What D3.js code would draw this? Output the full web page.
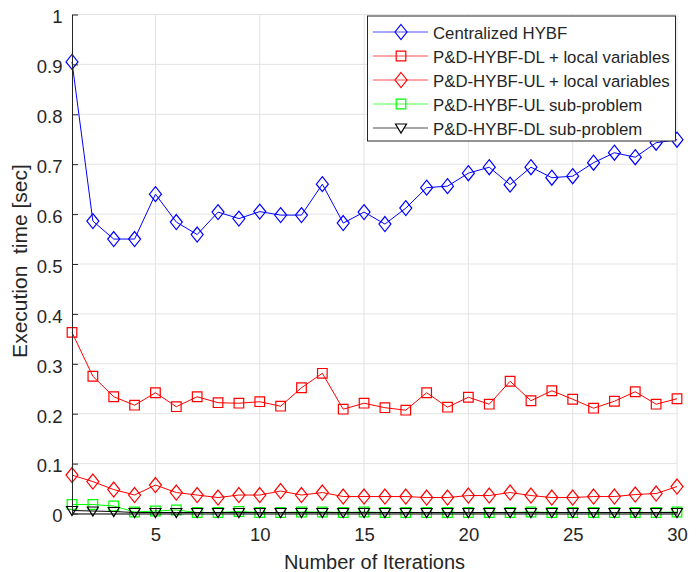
<!DOCTYPE html>
<html>
<head>
<meta charset="utf-8">
<script src="https://cdn.jsdelivr.net/npm/d3@7"></script>
<style>
  body { margin: 0; background: #fff; }
  svg { font-family: "Liberation Sans", Arial, sans-serif; }
</style>
</head>
<body>
<div id="container"></div>
<script>
// data
const iterations = d3.range(1, 31);
const centralized = [0.905, 0.586, 0.550, 0.550, 0.640, 0.584, 0.559, 0.604, 0.591, 0.605,
                     0.598, 0.598, 0.660, 0.582, 0.604, 0.580, 0.612, 0.653, 0.656, 0.682,
                     0.694, 0.659, 0.694, 0.673, 0.676, 0.703, 0.723, 0.714, 0.743, 0.749];
const dlLocal = [0.363, 0.275, 0.234, 0.217, 0.242, 0.214, 0.234, 0.222, 0.221, 0.224,
                 0.215, 0.252, 0.281, 0.209, 0.221, 0.212, 0.207, 0.242, 0.213, 0.233,
                 0.219, 0.265, 0.226, 0.246, 0.229, 0.211, 0.225, 0.244, 0.219, 0.230];
const ulLocal = [0.077, 0.064, 0.048, 0.037, 0.057, 0.042, 0.037, 0.032, 0.037, 0.037,
                 0.045, 0.037, 0.042, 0.034, 0.034, 0.034, 0.034, 0.032, 0.032, 0.036,
                 0.036, 0.042, 0.036, 0.032, 0.032, 0.034, 0.034, 0.038, 0.040, 0.054];
const ulSub = [0.018, 0.018, 0.015, 0.003, 0.005, 0.007, 0.002, 0.002, 0.004, 0.002,
               0.002, 0.003, 0.003, 0.002, 0.003, 0.002, 0.002, 0.002, 0.002, 0.002,
               0.002, 0.002, 0.003, 0.002, 0.002, 0.002, 0.002, 0.002, 0.002, 0.003];
const dlSub = [0.006, 0.005, 0.004, 0.002, 0.002, 0.002, 0.002, 0.002, 0.002, 0.002,
               0.002, 0.002, 0.002, 0.002, 0.002, 0.002, 0.002, 0.002, 0.002, 0.002,
               0.002, 0.002, 0.002, 0.002, 0.002, 0.002, 0.002, 0.002, 0.002, 0.002];
const xTicks = [5, 10, 15, 20, 25, 30];
const yTicks = [0, 0.1, 0.2, 0.3, 0.4, 0.5, 0.6, 0.7, 0.8, 0.9, 1];

const series = [
  {name: "Centralized HYBF", values: centralized, color: "#0000ff", marker: "diamond"},
  {name: "P&D-HYBF-DL + local variables", values: dlLocal, color: "#ff0000", marker: "square"},
  {name: "P&D-HYBF-UL + local variables", values: ulLocal, color: "#ff0000", marker: "diamond"},
  {name: "P&D-HYBF-UL sub-problem", values: ulSub, color: "#00ff00", marker: "square"},
  {name: "P&D-HYBF-DL sub-problem", values: dlSub, color: "#000000", marker: "triangle"}
];

// dimensions
const w = 699, h = 572;
const pLeft = 72, pRight = 677, pTop = 14.5, pBottom = 513.5;
const axisColor = "#262626";

const xScale = d3.scaleLinear().domain([1, 30]).range([pLeft, pRight]);
const yScale = d3.scaleLinear().domain([0, 1]).range([pBottom, pTop]);

const svg = d3.select("#container").append("svg")
  .attr("width", w).attr("height", h);

// grid
svg.append("g").selectAll("line")
  .data(xTicks).enter().append("line")
  .attr("x1", d => xScale(d)).attr("x2", d => xScale(d))
  .attr("y1", pTop).attr("y2", pBottom)
  .attr("stroke", "#e3e3e3").attr("stroke-width", 1);
svg.append("g").selectAll("line")
  .data(yTicks).enter().append("line")
  .attr("x1", pLeft).attr("x2", pRight)
  .attr("y1", d => yScale(d)).attr("y2", d => yScale(d))
  .attr("stroke", "#e3e3e3").attr("stroke-width", 1);

// markers
function markerPath(type) {
  if (type === "diamond") return "M0,-7.5L6,0L0,7.5L-6,0Z";
  if (type === "square") return "M-4.8,-4.8H4.8V4.8H-4.8Z";
  return "M-5.5,-4L5.5,-4L0,5Z";
}

const line = d3.line()
  .x((d, i) => xScale(iterations[i]))
  .y(d => yScale(d));

series.forEach(function(s) {
  svg.append("path")
    .datum(s.values)
    .attr("d", line)
    .attr("fill", "none")
    .attr("stroke", s.color)
    .attr("stroke-width", 1);
  svg.append("g").selectAll("path")
    .data(s.values).enter().append("path")
    .attr("transform", (d, i) => "translate(" + xScale(iterations[i]) + "," + yScale(d) + ")")
    .attr("d", markerPath(s.marker))
    .attr("fill", "none")
    .attr("stroke", s.color)
    .attr("stroke-width", 1.2);
});

// axes
const xAxis = d3.axisBottom(xScale).tickValues(xTicks)
  .tickSizeInner(-6).tickSizeOuter(0).tickPadding(14.5);
const yAxis = d3.axisLeft(yScale).tickValues(yTicks)
  .tickSizeInner(-6).tickSizeOuter(0).tickPadding(9.5)
  .tickFormat(d => d === 0 ? "0" : d === 1 ? "1" : d3.format(".1f")(d));

const gx = svg.append("g")
  .attr("transform", "translate(0," + pBottom + ")")
  .call(xAxis);
const gy = svg.append("g")
  .attr("transform", "translate(" + pLeft + ",0)")
  .call(yAxis);
[gx, gy].forEach(function(g) {
  g.select(".domain").attr("stroke", axisColor);
  g.selectAll(".tick line").attr("stroke", axisColor);
  g.selectAll(".tick text")
    .attr("fill", axisColor)
    .style("font-size", "18.5px")
    .style("font-family", "'Liberation Sans', Arial, sans-serif");
});
gx.select(".domain").attr("stroke", "#000");
gy.selectAll(".tick text").attr("dy", "0.45em");

// axis labels
svg.append("text")
  .attr("x", (pLeft + pRight) / 2)
  .attr("y", 569)
  .attr("text-anchor", "middle")
  .attr("fill", axisColor)
  .style("font-size", "20px")
  .text("Number of Iterations");

svg.append("text")
  .attr("transform", "translate(27,261)rotate(-90)")
  .attr("text-anchor", "middle")
  .attr("fill", axisColor)
  .style("font-size", "21px")
  .style("white-space", "pre")
  .text("Execution  time [sec]");

// legend
const lg = svg.append("g");
lg.append("rect")
  .attr("x", 367.5).attr("y", 16)
  .attr("width", 308).attr("height", 125)
  .attr("fill", "#fff")
  .attr("stroke", axisColor).attr("stroke-width", 1);

series.forEach(function(s, i) {
  const yy = 32 + i * 24;
  lg.append("line")
    .attr("x1", 373).attr("x2", 428)
    .attr("y1", yy).attr("y2", yy)
    .attr("stroke", s.color)
    .attr("stroke-opacity", 0.7)
    .attr("stroke-width", 1);
  lg.append("path")
    .attr("transform", "translate(401," + yy + ")")
    .attr("d", markerPath(s.marker))
    .attr("fill", s.marker === "triangle" ? "#fff" : "none")
    .attr("stroke", s.color)
    .attr("stroke-width", 1.2);
  lg.append("text")
    .attr("x", 433)
    .attr("y", yy + 6.5)
    .attr("fill", axisColor)
    .style("font-size", "16.8px")
    .text(s.name);
});
</script>
</body>
</html>
